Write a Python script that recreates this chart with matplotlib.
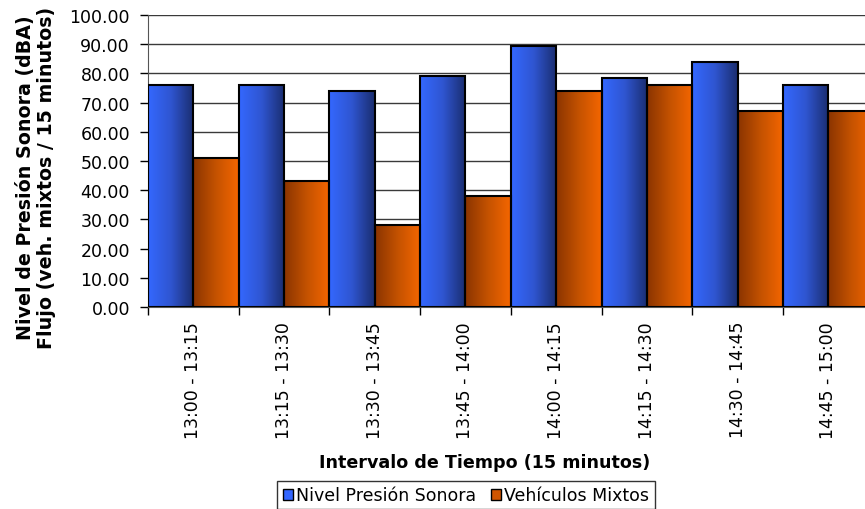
import numpy as np
import matplotlib
matplotlib.use('Agg')
import matplotlib.pyplot as plt
from matplotlib.colors import LinearSegmentedColormap
from matplotlib.patches import Patch

plt.rcParams['font.family'] = ['DejaVu Sans']

# data
intervalos = ['13:00 - 13:15', '13:15 - 13:30', '13:30 - 13:45', '13:45 - 14:00',
              '14:00 - 14:15', '14:15 - 14:30', '14:30 - 14:45', '14:45 - 15:00']
nivel_presion = [76, 76, 74, 79, 89.5, 78.3, 84, 76]
vehiculos = [51, 43, 28, 38, 74, 76, 67, 67]

cmap_azul = LinearSegmentedColormap.from_list('azul', ['#3468FF', '#2F55D0', '#1A2D6E'])
cmap_naranja = LinearSegmentedColormap.from_list('naranja', ['#8A3400', '#C45200', '#F56600'])

fig = plt.figure(figsize=(8.65, 5.1), dpi=100)
ax_w = 873.6 - 148
ax = fig.add_axes([148/865, 1 - 308/510, ax_w/865, (308 - 16)/510])

x = np.arange(len(intervalos))
w = 0.5
b1 = ax.bar(x - w/2, nivel_presion, w, facecolor='none', edgecolor='black', linewidth=1.5, zorder=3)
b2 = ax.bar(x + w/2, vehiculos, w, facecolor='none', edgecolor='black', linewidth=1.5, zorder=3)

# gradient fill inside every bar
grad = np.linspace(0, 1, 256).reshape(1, -1)
for bars, cm in [(b1, cmap_azul), (b2, cmap_naranja)]:
    for p in bars:
        bx, by = p.get_x(), p.get_y()
        bw, bh = p.get_width(), p.get_height()
        im = ax.imshow(grad, cmap=cm, extent=[bx, bx + bw, by, by + bh],
                       aspect='auto', zorder=2.5, interpolation='bilinear')
        im.set_clip_path(p)

ax.set_xlim(-0.5, len(intervalos) - 0.5)
ax.set_ylim(0, 100)
ax.set_yticks(np.arange(0, 101, 10))
ax.set_yticklabels(['%.2f' % v for v in np.arange(0, 101, 10)], fontsize=12.5)
ax.yaxis.grid(True, color='#3a3a3a', linewidth=1)
ax.set_axisbelow(True)

ax.set_xticks(x)
ax.set_xticklabels(intervalos, rotation=90, fontsize=12.5)
ax.tick_params(axis='x', which='major', length=0, pad=10)
ax.set_xticks(np.arange(-0.5, len(intervalos), 1), minor=True)
ax.tick_params(axis='x', which='minor', length=6, width=1, direction='out')
ax.tick_params(axis='y', length=6, width=1, direction='out', pad=7)

for s in ['top', 'right']:
    ax.spines[s].set_visible(False)
ax.spines['left'].set_color('#555555')
ax.spines['bottom'].set_color('#555555')

ax.set_ylabel('Nivel de Presión Sonora (dBA)\nFlujo (veh. mixtos / 15 minutos)',
              fontsize=13.7, fontweight='bold', linespacing=1.15)
ax.yaxis.label.set_verticalalignment('center')
ax.yaxis.set_label_coords((36 - 148)/ax_w, (308 - 178)/292)
ax.set_xlabel('Intervalo de Tiempo (15 minutos)', fontsize=12.6, fontweight='bold')
ax.xaxis.label.set_verticalalignment('center')
ax.xaxis.set_label_coords((485 - 148)/ax_w, (308 - 463)/292)

handles = [Patch(facecolor='#3366FF', edgecolor='black', linewidth=1),
           Patch(facecolor='#D05500', edgecolor='black', linewidth=1)]
leg = fig.legend(handles, ['Nivel Presión Sonora', 'Vehículos Mixtos'], loc='upper center',
                 bbox_to_anchor=(466/865, 1 - 482/510), ncol=2, fontsize=12.5,
                 frameon=True, fancybox=False, handlelength=0.6, handleheight=0.6,
                 handletextpad=0.2, columnspacing=0.8, borderpad=0.3, borderaxespad=0)
leg.get_frame().set_edgecolor('black')
leg.get_frame().set_linewidth(1)

fig.savefig('out.png', dpi=100)
